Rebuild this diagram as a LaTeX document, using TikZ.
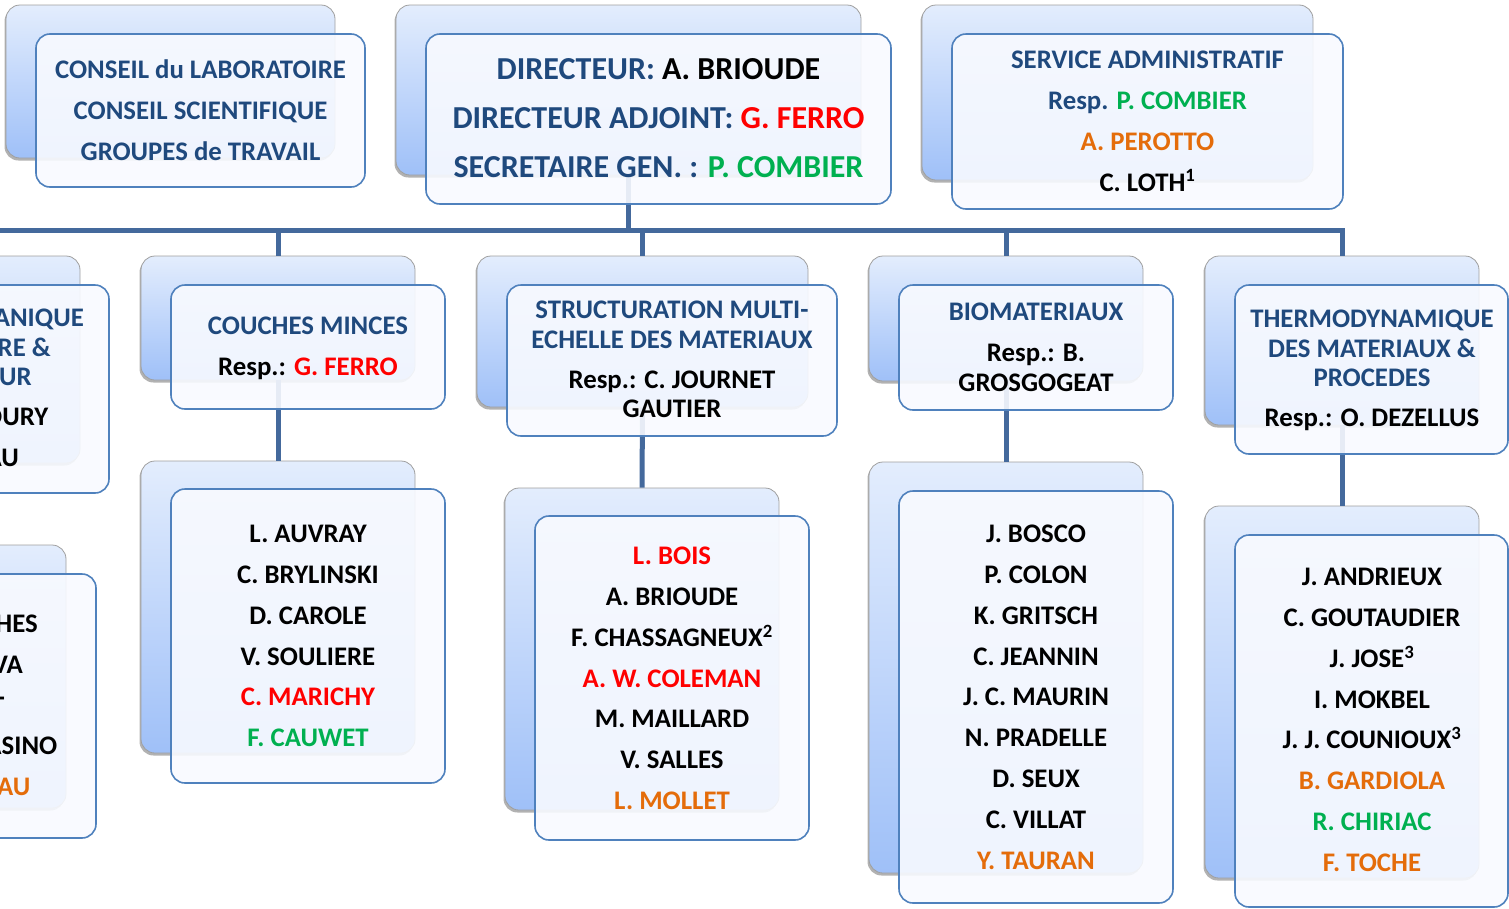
\documentclass[tikz,border=0pt]{standalone}
\usepackage{fontspec}
\setmainfont{Carlito}
\usetikzlibrary{shadows}
\definecolor{tblue}{HTML}{1F497D}
\definecolor{tred}{HTML}{FF0000}
\definecolor{tgreen}{HTML}{00B050}
\definecolor{torange}{HTML}{E46C0A}
\definecolor{bord}{HTML}{4F81BD}
\definecolor{connc}{HTML}{44699C}
\definecolor{gtop}{HTML}{E3EDFD}
\definecolor{gbot}{HTML}{9FC0F8}
\definecolor{ffill}{HTML}{F8FAFF}
\newcommand\firstl{\rule{0pt}{22pt}}
\newcommand\firstlD{\rule{0pt}{26pt}}
\newcommand\BBx[5]{\node[backbox, minimum width={(#4)-(#2)}, minimum height={(#5)-(#3)}] (#1) at ({((#2)+(#4))/2},{((#3)+(#5))/2}) {};}
\newcommand\FBx[5]{\node[frontbox, minimum width={(#4)-(#2)}, minimum height={(#5)-(#3)}] (#1) at ({((#2)+(#4))/2},{((#3)+(#5))/2}) {};}
\begin{document}
\begin{tikzpicture}[x=1pt,y=-1pt,
  backbox/.style={rectangle, rounded corners=14pt, draw=gray!75, line width=0.8pt,
    top color=gtop, bottom color=gbot, inner sep=0pt,
    drop shadow={shadow xshift=-1.5pt, shadow yshift=-2.5pt, fill=black, opacity=0.3}},
  frontbox/.style={rectangle, rounded corners=14pt, draw=bord, line width=1.6pt,
    fill=ffill, fill opacity=0.9, inner sep=0pt},
  conn/.style={draw=connc, line width=5pt, line join=miter},
  txt/.style={inner sep=0pt, align=center, anchor=north, font=\bfseries\fontsize{26.8}{40.8}\selectfont},
  txtt/.style={inner sep=0pt, align=center, anchor=north, font=\bfseries\fontsize{26.8}{29.5}\selectfont},
  txtd/.style={inner sep=0pt, align=center, anchor=north, font=\bfseries\fontsize{32}{49}\selectfont},
  part/.style={inner sep=0pt, anchor=base east, font=\bfseries\fontsize{26.8}{30}\selectfont}]
\clip (0,0) rectangle (1509,908);
\useasboundingbox (0,0) rectangle (1509,908);

\coordinate (bus) at (0,230);

% ---- back boxes
\BBx{conseilB}{6}{5}{335}{158}
\BBx{dirB}{396}{5}{861}{175}
\BBx{adminB}{922}{5}{1313}{180}
\BBx{mecaB}{-200}{256}{80}{463}
\BBx{couchesB}{141}{256}{415}{380}
\BBx{structB}{477}{256}{808}{407}
\BBx{bioB}{869}{256}{1143}{381}
\BBx{thermoB}{1205}{256}{1479}{425}
\BBx{mecaMB}{-200}{545}{66}{808}
\BBx{couchesMB}{141}{461}{415}{753}
\BBx{structMB}{505}{488}{779}{810}
\BBx{bioMB}{869}{462}{1143}{873}
\BBx{thermoMB}{1205}{506}{1479}{878}

% ---- connectors (under the front boxes)
\draw[conn] (mecaB.north) -- (mecaB.north |- bus) -| (thermoB.north);
\draw[conn] (dirB.south) -- (dirB.south |- bus);
\draw[conn] (couchesB.north) -- (couchesB.north |- bus);
\draw[conn] (structB.north) -- (structB.north |- bus);
\draw[conn] (bioB.north) -- (bioB.north |- bus);
\draw[conn] (couchesB.south) -- (couchesMB.north);
\draw[conn] (structB.south) -- (structMB.north);
\draw[conn] (bioB.south) -- (bioMB.north);
\draw[conn] (thermoB.south) -- (thermoMB.north);

% ---- front boxes
\FBx{conseilF}{36}{34}{365}{187}
\FBx{dirF}{426}{34}{891}{204}
\FBx{adminF}{952}{34}{1343}{209}
\FBx{mecaF}{-170}{285}{109}{493}
\FBx{couchesF}{171}{285}{445}{409}
\FBx{structF}{507}{285}{837}{436}
\FBx{bioF}{899}{285}{1173}{410}
\FBx{thermoF}{1235}{285}{1508}{454}
\FBx{mecaMF}{-170}{574}{96}{838}
\FBx{couchesMF}{171}{489}{445}{783}
\FBx{structMF}{535}{516}{809}{840}
\FBx{bioMF}{899}{491}{1173}{903}
\FBx{thermoMF}{1235}{535}{1508}{907}

% ---- texts
\node[txt, text=tblue] (conseilT) at (200.5,56.4) {\firstl CONSEIL du LABORATOIRE\\CONSEIL SCIENTIFIQUE\\GROUPES de TRAVAIL};
\node[txtd] (dirT) at (658.5,53.1) {\firstlD\textcolor{tblue}{DIRECTEUR:} A. BRIOUDE\\\textcolor{tblue}{DIRECTEUR ADJOINT:} \textcolor{tred}{G. FERRO}\\\textcolor{tblue}{SECRETAIRE GEN. :} \textcolor{tgreen}{P. COMBIER}};
\node[txt] (adminT) at (1147.5,46.4) {\firstl\textcolor{tblue}{SERVICE ADMINISTRATIF}\\\textcolor{tblue}{Resp.} \textcolor{tgreen}{P. COMBIER}\\\textcolor{torange}{A. PEROTTO}\\C. LOTH\textsuperscript{1}};

\node[part, text=tblue] (mecaT1) at (84,326.4) {ANIQUE};
\node[part, text=tblue] (mecaT2) at (51,356.4) {RE \&};
\node[part, text=tblue] (mecaT3) at (32,385.4) {UR};
\node[part] (mecaT4) at (48.5,425.4) {OURY};
\node[part] (mecaT5) at (19,466.4) {AU};

\node[txt] (couchesT) at (308,312.4) {\firstl\textcolor{tblue}{COUCHES MINCES}\\Resp.: \textcolor{tred}{G. FERRO}};
\node[txtt] (structT) at (672,296.4) {\firstl\textcolor{tblue}{STRUCTURATION MULTI-}\\\textcolor{tblue}{ECHELLE DES MATERIAUX}\\[10.5pt]Resp.: C. JOURNET\\GAUTIER};
\node[txtt] (bioT) at (1036,298.4) {\firstl\textcolor{tblue}{BIOMATERIAUX}\\[11.5pt]Resp.: B.\\GROSGOGEAT};
\node[txtt] (thermoT) at (1372,305.4) {\firstl\textcolor{tblue}{THERMODYNAMIQUE}\\\textcolor{tblue}{DES MATERIAUX \&}\\\textcolor{tblue}{PROCEDES}\\[10.5pt]Resp.: O. DEZELLUS};

\node[part] (mecaM1) at (38,632.4) {HES};
\node[part] (mecaM2) at (23,673.4) {VA};
\node[part] (mecaM3) at (4.5,714.4) {T};
\node[part] (mecaM4) at (57.5,754.4) {ASINO};
\node[part, text=torange] (mecaM5) at (30.5,795.4) {AU};

\node[txt] (couchesMT) at (308,520.4) {\firstl L. AUVRAY\\C. BRYLINSKI\\D. CAROLE\\V. SOULIERE\\\textcolor{tred}{C. MARICHY}\\\textcolor{tgreen}{F. CAUWET}};
\node[txt] (structMT) at (672,542.4) {\firstl\textcolor{tred}{L. BOIS}\\A. BRIOUDE\\F. CHASSAGNEUX\textsuperscript{2}\\\textcolor{tred}{A. W. COLEMAN}\\M. MAILLARD\\V. SALLES\\\textcolor{torange}{L. MOLLET}};
\node[txt] (bioMT) at (1036,520.4) {\firstl J. BOSCO\\P. COLON\\K. GRITSCH\\C. JEANNIN\\J. C. MAURIN\\N. PRADELLE\\D. SEUX\\C. VILLAT\\\textcolor{torange}{Y. TAURAN}};
\node[txt] (thermoMT) at (1372,563.4) {\firstl J. ANDRIEUX\\C. GOUTAUDIER\\J. JOSE\textsuperscript{3}\\I. MOKBEL\\J. J. COUNIOUX\textsuperscript{3}\\\textcolor{torange}{B. GARDIOLA}\\\textcolor{tgreen}{R. CHIRIAC}\\\textcolor{torange}{F. TOCHE}};
\end{tikzpicture}
\end{document}
